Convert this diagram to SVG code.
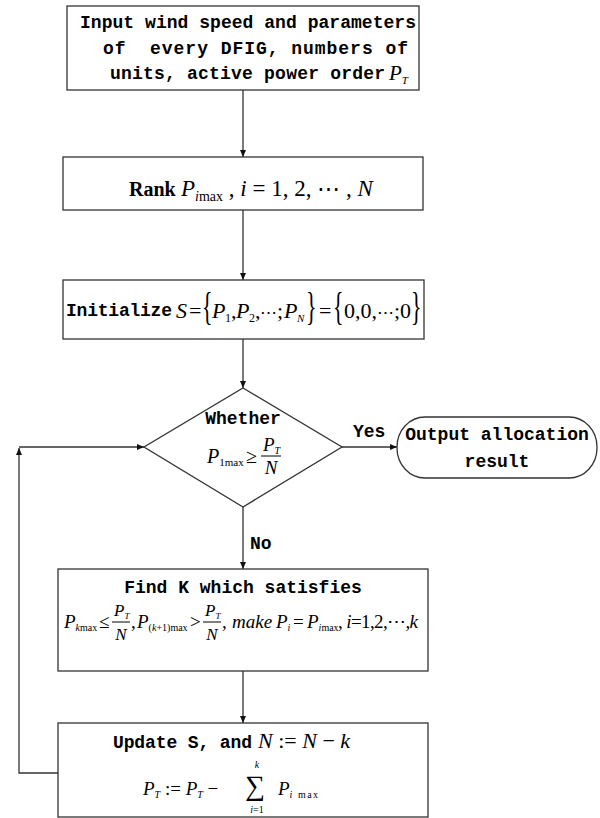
<svg xmlns="http://www.w3.org/2000/svg" width="600" height="818" viewBox="0 0 600 818">
<defs>
<marker id="ah" markerWidth="8" markerHeight="6" refX="7" refY="3" orient="auto" markerUnits="userSpaceOnUse">
<path d="M0,0 L7,3 L0,6 z" fill="#111"/>
</marker>
<style>
.box{fill:#fff;stroke:#333;stroke-width:1.3}
.ln{fill:none;stroke:#333;stroke-width:1.3}
.mono{font-family:"Liberation Mono",monospace;font-weight:bold;font-size:18px;fill:#000;white-space:pre}
.m{font-family:"Liberation Serif",serif;font-style:italic;fill:#000}
.r{font-family:"Liberation Serif",serif;font-style:normal;fill:#000}
.bar{stroke:#000;stroke-width:1}
</style>
</defs>
<rect width="600" height="818" fill="#fff"/>

<g id="connectors">
<line class="ln" x1="243" y1="90" x2="243" y2="157" marker-end="url(#ah)"/>
<line class="ln" x1="243" y1="210" x2="243" y2="280" marker-end="url(#ah)"/>
<line class="ln" x1="243" y1="339" x2="243" y2="388" marker-end="url(#ah)"/>
<line class="ln" x1="342" y1="447" x2="397" y2="447" marker-end="url(#ah)"/>
<line class="ln" x1="243" y1="507" x2="243" y2="569" marker-end="url(#ah)"/>
<line class="ln" x1="243" y1="671" x2="243" y2="723" marker-end="url(#ah)"/>
<polyline class="ln" points="58,773 19,773 19,448" marker-end="url(#ah)"/>
<line class="ln" x1="19" y1="447" x2="144" y2="447" marker-end="url(#ah)"/>
<text class="mono" x="353" y="437">Yes</text>
<text class="mono" x="250" y="549">No</text>
</g>

<g id="input">
<rect class="box" x="67" y="6" width="352" height="84"/>
<text class="mono" x="80" y="28" textLength="336">Input wind speed and parameters</text>
<text class="mono" x="103" y="54" textLength="305">of  every DFIG, numbers of</text>
<text class="mono" x="110" y="79" textLength="275">units, active power order</text>
<text class="m" x="389" y="80" font-size="21">P<tspan font-size="11" dy="4">T</tspan></text>
</g>

<g id="rank">
<rect class="box" x="63" y="157" width="360" height="53"/>
<text class="r" x="129" y="196" font-size="20" font-weight="bold">Rank</text>
<text class="r" x="181" y="196" font-size="23"><tspan class="m">P</tspan><tspan font-size="14" dy="5"><tspan class="m">i</tspan>max</tspan><tspan dy="-5"> , </tspan><tspan class="m">i</tspan> = 1, 2, ⋯ , <tspan class="m">N</tspan></text>
</g>

<g id="init">
<rect class="box" x="63" y="280" width="361" height="59"/>
<text class="mono" x="66" y="316" font-size="17.5" textLength="106">Initialize</text>
<text class="r" y="318" font-size="22"><tspan class="m" x="176">S</tspan><tspan x="189">=</tspan></text>
<text class="r" font-size="22" transform="translate(202,320) scale(1,1.8)">{</text>
<text class="r" y="318" font-size="22"><tspan class="m" x="212">P</tspan><tspan x="225" font-size="12" dy="4">1</tspan><tspan x="231" dy="-4">,</tspan><tspan class="m" x="236">P</tspan><tspan x="249" font-size="12" dy="4">2</tspan><tspan x="255" dy="-4">,</tspan><tspan x="260" font-size="17">⋯</tspan><tspan x="277">;</tspan><tspan class="m" x="284">P</tspan><tspan class="m" x="297" font-size="11" dy="4">N</tspan></text>
<text class="r" font-size="22" transform="translate(306,320) scale(1,1.8)">}</text>
<text class="r" x="319" y="318" font-size="22">=</text>
<text class="r" font-size="22" transform="translate(333,320) scale(1,1.8)">{</text>
<text class="r" y="318" font-size="22"><tspan x="344">0,0,</tspan><tspan x="377" font-size="17">⋯</tspan><tspan x="394">;0</tspan></text>
<text class="r" font-size="22" transform="translate(411,320) scale(1,1.8)">}</text>
</g>

<g id="decision">
<polygon class="box" points="243,388 342,447 243,507 144,447"/>
<text class="mono" x="243" y="424" text-anchor="middle">Whether</text>
<text class="m" x="207" y="463" font-size="20">P<tspan class="r" font-size="11" dy="3">1max</tspan></text>
<text class="r" x="246" y="463" font-size="20">≥</text>
<text class="m" x="263" y="451" font-size="19">P<tspan font-size="10" dy="3">T</tspan></text>
<line class="bar" x1="261" y1="456" x2="281" y2="456"/>
<text class="m" x="271" y="474" font-size="19" text-anchor="middle">N</text>
</g>

<g id="output">
<rect class="box" x="397" y="417" width="200" height="61" rx="28" ry="30"/>
<text class="mono" x="497" y="440" text-anchor="middle">Output allocation</text>
<text class="mono" x="497" y="467" text-anchor="middle">result</text>
</g>

<g id="findk">
<rect class="box" x="58" y="569" width="370" height="102"/>
<text class="mono" x="243" y="593" text-anchor="middle">Find K which satisfies</text>
<text class="m" x="64" y="628" font-size="19">P<tspan class="r" font-size="10" dy="3"><tspan class="m">k</tspan>max</tspan></text>
<text class="r" x="99" y="628" font-size="19">≤</text>
<text class="m" x="114" y="616" font-size="17">P<tspan font-size="9" dy="3">T</tspan></text>
<line class="bar" x1="112" y1="622" x2="130" y2="622"/>
<text class="m" x="121" y="640" font-size="17" text-anchor="middle">N</text>
<text class="r" x="131" y="628" font-size="19">,</text>
<text class="m" x="137" y="628" font-size="19">P<tspan class="r" font-size="10" dy="3">(<tspan class="m">k</tspan>+1)max</tspan></text>
<text class="r" x="190" y="628" font-size="19">&gt;</text>
<text class="m" x="205" y="616" font-size="17">P<tspan font-size="9" dy="3">T</tspan></text>
<line class="bar" x1="203" y1="622" x2="221" y2="622"/>
<text class="m" x="212" y="640" font-size="17" text-anchor="middle">N</text>
<text class="r" x="222" y="628" font-size="19">,</text>
<text class="m" x="232" y="628" font-size="19">make</text>
<text class="m" x="276" y="628" font-size="19">P<tspan font-size="10" dy="3">i</tspan></text>
<text class="r" x="293" y="628" font-size="19">=</text>
<text class="m" x="307" y="628" font-size="19">P<tspan class="r" font-size="10" dy="3"><tspan class="m">i</tspan>max</tspan></text>
<text class="r" x="338" y="628" font-size="19" textLength="80">, <tspan class="m">i</tspan>=1,2,⋯,<tspan class="m">k</tspan></text>
</g>

<g id="update">
<rect class="box" x="58" y="723" width="370" height="94"/>
<text class="mono" x="113" y="748" textLength="139">Update S, and</text>
<text class="m" x="258" y="748" font-size="22">N<tspan class="r"> := </tspan>N<tspan class="r"> − </tspan>k</text>
<text class="m" x="143" y="795" font-size="19">P<tspan font-size="10" dy="3">T</tspan><tspan class="r" dy="-3"> := </tspan>P<tspan font-size="10" dy="3">T</tspan><tspan class="r" dy="-3"> −</tspan></text>
<text class="r" x="245" y="795" font-size="28">∑</text>
<text class="m" x="257" y="768" font-size="10" text-anchor="middle">k</text>
<text class="r" x="257" y="813" font-size="10" text-anchor="middle"><tspan class="m">i</tspan>=1</text>
<text class="m" x="278" y="795" font-size="19">P<tspan font-size="10" dy="3" letter-spacing="1.5">i <tspan class="r">max</tspan></tspan></text>
</g>
</svg>
